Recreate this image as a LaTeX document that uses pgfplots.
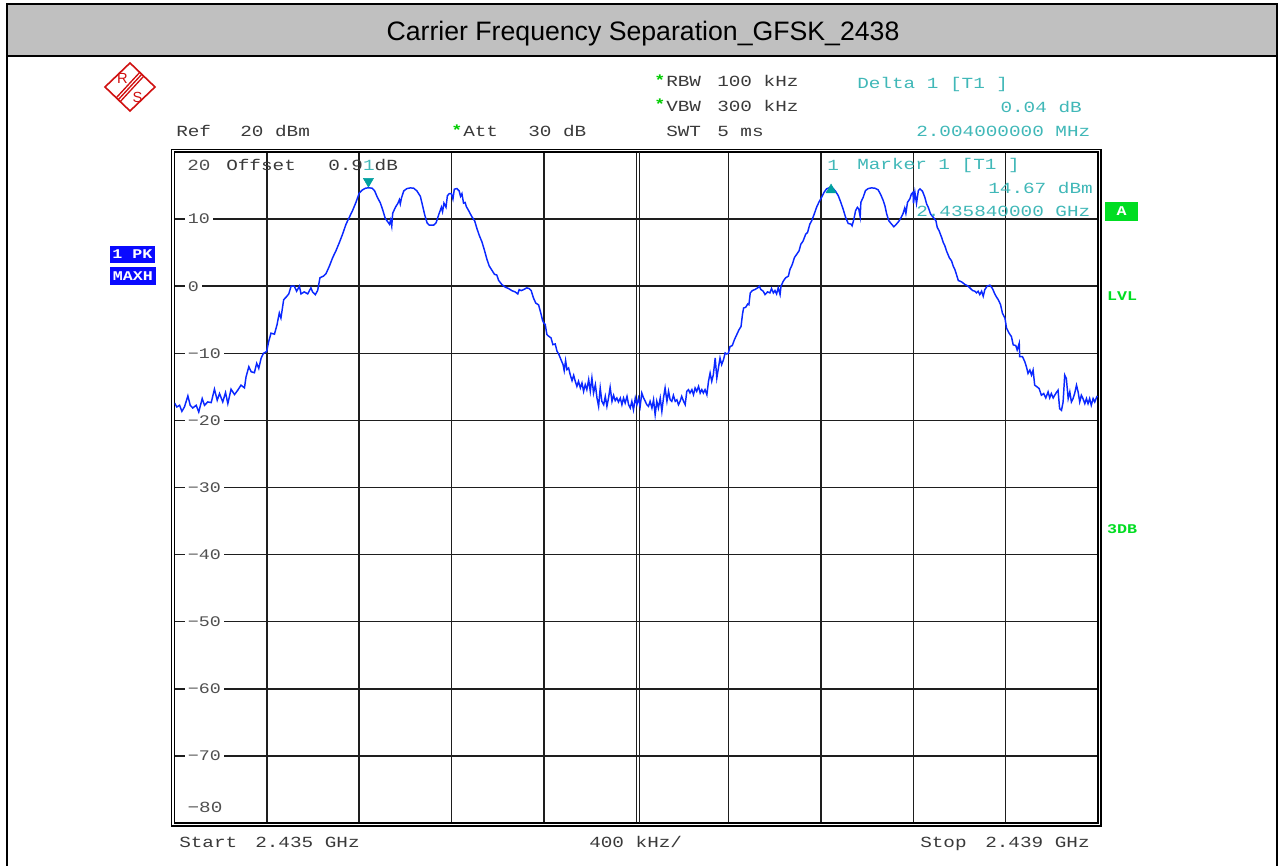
\documentclass[border=0pt]{standalone}
\usepackage{pgfplots}
\pgfplotsset{compat=1.18}
\usepackage{pgfplotstable}
\usepackage{fontspec}
\setmainfont{Liberation Sans}
\newfontfamily\rs[FakeStretch=1.25]{Liberation Mono}
\definecolor{rsgray}{HTML}{3A3A3A}
\definecolor{ticgray}{HTML}{505050}
\definecolor{mkcyan}{HTML}{40B8B8}
\definecolor{mkteal}{HTML}{00A0A0}
\definecolor{rsgreen}{HTML}{00DD22}
\definecolor{rsstar}{HTML}{00CC00}
\definecolor{rsblue}{HTML}{0A0AFF}
\definecolor{rsred}{HTML}{D01010}
\definecolor{titlegray}{HTML}{C0C0C0}
\definecolor{tracecol}{HTML}{0A28FF}
\definecolor{gridcol}{HTML}{1E1E1E}

% frequency offset from 2.435 GHz in MHz, level in dBm
\pgfplotstableread{
f db
0.000 -17.40
0.010 -18.00
0.022 -17.75
0.032 -18.65
0.043 -18.00
0.058 -16.35
0.068 -17.75
0.079 -18.15
0.094 -17.75
0.105 -18.75
0.120 -16.75
0.130 -17.75
0.144 -17.25
0.159 -17.35
0.173 -15.35
0.185 -17.00
0.195 -16.00
0.209 -17.25
0.221 -15.85
0.231 -17.50
0.245 -15.35
0.260 -16.15
0.274 -15.50
0.288 -14.75
0.303 -15.15
0.310 -13.50
0.322 -12.00
0.332 -12.75
0.346 -12.90
0.356 -11.50
0.365 -12.25
0.375 -10.75
0.385 -10.00
0.399 -9.75
0.408 -8.25
0.418 -7.00
0.433 -7.15
0.444 -5.75
0.454 -4.00
0.461 -4.75
0.473 -2.00
0.483 -1.65
0.495 -1.15
0.505 0.00
0.519 0.00
0.529 -0.75
0.541 0.00
0.548 -1.15
0.562 -0.85
0.577 -1.15
0.591 -0.25
0.598 -0.85
0.610 -1.25
0.620 -0.65
0.630 1.25
0.645 1.50
0.656 1.85
0.671 3.00
0.685 4.25
0.699 5.25
0.714 6.50
0.728 7.75
0.743 9.25
0.757 10.25
0.771 11.25
0.786 12.50
0.800 13.85
0.812 14.30
0.827 14.60
0.841 14.67
0.856 14.60
0.867 14.20
0.877 13.38
0.892 12.37
0.902 11.36
0.913 10.10
0.931 9.24
0.936 9.85
0.941 8.94
0.945 10.86
0.957 11.77
0.968 12.37
0.974 12.88
0.978 12.27
0.983 13.13
0.993 14.20
1.007 14.55
1.022 14.65
1.036 14.60
1.050 14.20
1.065 13.38
1.072 12.37
1.084 10.61
1.094 9.44
1.104 9.09
1.122 9.09
1.133 9.44
1.144 10.61
1.156 11.77
1.161 11.11
1.167 12.37
1.176 11.77
1.182 13.48
1.190 13.79
1.199 13.79
1.206 12.98
1.212 14.45
1.223 14.55
1.233 14.20
1.239 13.38
1.245 13.79
1.252 12.37
1.259 12.47
1.264 11.87
1.274 11.26
1.288 10.35
1.300 9.75
1.310 8.59
1.320 7.58
1.332 6.57
1.343 5.30
1.353 4.04
1.363 3.03
1.375 2.37
1.386 1.77
1.396 1.67
1.404 0.86
1.418 0.25
1.433 -0.15
1.447 -0.35
1.461 -0.66
1.476 -0.86
1.487 -1.16
1.493 -0.51
1.502 -0.66
1.512 -0.51
1.526 -0.25
1.536 -0.35
1.545 -0.66
1.555 -1.77
1.565 -2.53
1.577 -2.78
1.585 -3.79
1.594 -5.05
1.599 -5.47
1.606 -5.72
1.613 -7.21
1.621 -7.46
1.631 -7.71
1.639 -8.71
1.649 -8.61
1.657 -9.70
1.664 -10.10
1.674 -10.95
1.683 -11.69
1.688 -12.59
1.694 -11.09
1.700 -12.44
1.707 -12.19
1.714 -13.18
1.722 -14.08
1.729 -13.28
1.736 -14.18
1.743 -14.93
1.750 -14.18
1.758 -15.17
1.765 -14.43
1.772 -15.67
1.779 -14.68
1.786 -15.42
1.794 -13.93
1.801 -15.67
1.808 -13.68
1.815 -15.92
1.823 -14.68
1.830 -16.67
1.837 -17.91
1.844 -15.17
1.851 -17.16
1.859 -17.66
1.866 -16.42
1.873 -17.91
1.880 -16.67
1.887 -15.07
1.895 -17.16
1.902 -16.27
1.909 -17.06
1.916 -16.67
1.923 -17.26
1.931 -16.67
1.938 -17.66
1.945 -16.67
1.952 -17.41
1.960 -16.42
1.967 -17.66
1.974 -18.16
1.981 -17.16
1.988 -18.41
1.996 -16.67
2.003 -17.66
2.010 -16.67
2.017 -17.91
2.024 -15.92
2.032 -16.67
2.039 -17.16
2.046 -17.66
2.053 -17.91
2.060 -17.16
2.068 -18.16
2.075 -16.92
2.082 -19.15
2.089 -17.16
2.096 -18.16
2.104 -16.67
2.111 -18.66
2.118 -16.67
2.125 -15.17
2.133 -17.16
2.140 -15.67
2.147 -16.92
2.154 -17.16
2.161 -16.27
2.169 -17.16
2.176 -16.92
2.183 -17.66
2.190 -17.16
2.197 -16.42
2.205 -17.16
2.212 -17.66
2.219 -15.67
2.226 -15.42
2.233 -15.92
2.241 -15.42
2.248 -16.17
2.255 -15.17
2.262 -15.67
2.270 -14.93
2.277 -15.92
2.284 -15.42
2.291 -15.92
2.298 -15.42
2.306 -16.17
2.313 -14.18
2.320 -12.94
2.327 -14.18
2.334 -13.18
2.342 -10.70
2.349 -13.68
2.356 -12.19
2.363 -10.70
2.370 -11.69
2.378 -10.95
2.385 -9.95
2.392 -10.10
2.399 -10.00
2.406 -9.00
2.416 -8.85
2.425 -8.00
2.435 -7.25
2.445 -6.50
2.454 -6.00
2.460 -4.25
2.465 -3.25
2.474 -3.15
2.483 -2.65
2.488 -2.75
2.494 -1.00
2.503 -0.65
2.514 -0.50
2.526 -0.25
2.533 0.00
2.540 -0.50
2.550 -0.75
2.558 -1.25
2.569 -0.85
2.579 -1.00
2.586 -0.35
2.594 -1.00
2.601 -0.65
2.608 -1.15
2.615 -0.25
2.623 -1.25
2.627 0.00
2.637 0.75
2.647 1.25
2.659 1.50
2.666 2.50
2.676 3.25
2.685 4.25
2.695 4.75
2.705 5.25
2.713 6.25
2.723 6.75
2.734 7.75
2.742 8.00
2.752 9.25
2.760 9.75
2.771 10.75
2.781 11.75
2.791 12.50
2.803 13.25
2.814 14.00
2.824 14.50
2.839 14.71
2.853 14.55
2.863 14.15
2.875 13.50
2.886 12.50
2.896 11.50
2.907 10.25
2.918 9.35
2.930 9.25
2.935 9.00
2.943 10.00
2.950 11.25
2.958 11.75
2.964 11.50
2.970 10.35
2.973 12.50
2.983 13.25
2.993 14.25
3.005 14.55
3.019 14.65
3.034 14.60
3.048 14.35
3.059 13.65
3.070 12.75
3.077 12.00
3.085 10.75
3.094 9.75
3.106 9.25
3.116 8.85
3.127 9.25
3.137 9.65
3.146 10.15
3.156 10.85
3.163 11.65
3.168 10.85
3.175 12.50
3.185 13.00
3.192 13.75
3.199 14.00
3.201 12.35
3.207 14.00
3.214 12.35
3.222 14.25
3.229 14.50
3.240 14.15
3.250 13.25
3.258 12.25
3.265 11.75
3.275 10.75
3.287 10.25
3.298 9.75
3.304 8.75
3.312 8.25
3.323 7.25
3.330 6.50
3.337 6.00
3.344 5.25
3.356 4.25
3.366 3.75
3.373 3.00
3.380 2.50
3.387 1.75
3.395 0.85
3.409 0.65
3.424 0.25
3.438 0.00
3.448 -0.35
3.457 -0.65
3.467 -0.75
3.474 -1.00
3.481 -0.75
3.488 -1.25
3.496 -0.75
3.503 -1.50
3.510 -0.50
3.520 0.00
3.532 0.15
3.543 -0.35
3.553 -1.15
3.561 -1.65
3.568 -2.00
3.578 -2.75
3.586 -4.00
3.597 -4.75
3.604 -6.25
3.615 -7.00
3.625 -7.50
3.633 -8.75
3.644 -8.85
3.650 -9.50
3.659 -8.50
3.661 -10.50
3.673 -10.50
3.683 -11.25
3.690 -12.00
3.697 -13.00
3.705 -12.50
3.712 -13.25
3.719 -12.50
3.726 -14.75
3.736 -15.00
3.745 -15.25
3.755 -16.25
3.765 -16.00
3.774 -16.65
3.784 -15.75
3.791 -16.65
3.798 -16.00
3.806 -16.65
3.817 -16.00
3.827 -15.50
3.834 -18.25
3.842 -18.50
3.849 -17.25
3.856 -13.25
3.863 -13.75
3.871 -16.75
3.878 -15.75
3.885 -17.25
3.892 -16.75
3.899 -16.00
3.907 -14.75
3.914 -15.75
3.921 -17.25
3.928 -16.25
3.935 -16.75
3.943 -17.50
3.950 -16.75
3.957 -17.50
3.964 -16.75
3.971 -17.75
3.979 -16.75
3.986 -17.25
3.993 -16.65
3.997 -16.35
}\tracedata

\begin{document}
\begin{tikzpicture}[
  rst/.style={font=\rs\fontsize{11.6pt}{13pt}\selectfont, inner sep=0pt, anchor=base west, text=rsgray},
  rsc/.style={rst, text=mkcyan},
  star/.style={font=\rs\bfseries\fontsize{11pt}{12pt}\selectfont, inner sep=0pt, anchor=base west, text=rsstar},
  pix/.style={x=0.75pt, y=-0.75pt, yshift=649.5pt}]
\begin{scope}[pix]
\useasboundingbox (0,0) rectangle (1279,866);
\fill[white] (0,0) rectangle (1279,866);
% title bar and frame
\fill[titlegray] (6.5,4.5) rectangle (1276.5,56.5);
\draw[black,line width=1.5pt] (6.5,870) -- (6.5,4.5) -- (1276.5,4.5) -- (1276.5,870);
\draw[black,line width=1.5pt] (6.5,56.5) -- (1276.5,56.5);
\node[font=\fontsize{20pt}{22pt}\selectfont, inner sep=0pt] at (643,34) {Carrier Frequency Separation\_GFSK\_2438};

% R&S logo
\draw[rsred, line width=1.2pt, line join=miter] (105,87) -- (130,63) -- (155,87) -- (130,111) -- cycle;
\draw[rsred, line width=1.0pt] (140.0,72.1) -- (116.0,98.1);
\draw[rsred, line width=1.0pt] (142.0,74.0) -- (118.0,100.0);
\draw[rsred, line width=1.0pt] (144.0,75.9) -- (120.0,101.9);
\node[text=rsred, font=\fontsize{11pt}{11pt}\selectfont, inner sep=0pt] at (122.5,78) {R};
\node[text=rsred, font=\fontsize{11pt}{11pt}\selectfont, inner sep=0pt] at (137.5,97) {S};

% header
\node[rst] at (176,137) {Ref};
\node[rst] at (240,137) {20 dBm};
\node[star] at (451,136) {*};
\node[rst] at (463,137) {Att};
\node[rst] at (528,137) {30 dB};
\node[star] at (654,86) {*};
\node[rst] at (666,87) {RBW};
\node[rst] at (717,87) {100 kHz};
\node[star] at (654,110) {*};
\node[rst] at (666,112) {VBW};
\node[rst] at (717,112) {300 kHz};
\node[rst] at (666,137) {SWT};
\node[rst] at (717,137) {5 ms};
\node[rsc] at (857,89) {Delta 1 [T1 ]};
\node[rsc, anchor=base east] at (1082,113) {0.04 dB};
\node[rsc] at (916,137) {2.004000000 MHz};

% left / right status boxes
\fill[rsblue] (110,246) rectangle (155,263);
\node[font=\rs\bfseries\fontsize{10pt}{11pt}\selectfont, text=white, inner sep=0pt] at (132.5,254.5) {1 PK};
\fill[rsblue] (110,267) rectangle (156,285);
\node[font=\rs\bfseries\fontsize{10pt}{11pt}\selectfont, text=white, inner sep=0pt] at (133,276) {MAXH};
\fill[rsgreen] (1105,202) rectangle (1138,221);
\node[font=\rs\bfseries\fontsize{10pt}{11pt}\selectfont, text=white, inner sep=0pt] at (1121.5,211.5) {A};
\node[font=\rs\bfseries\fontsize{10pt}{11pt}\selectfont, text=rsgreen, inner sep=0pt] at (1122,296) {LVL};
\node[font=\rs\bfseries\fontsize{10pt}{11pt}\selectfont, text=rsgreen, inner sep=0pt] at (1122,529) {3DB};
\end{scope}

\begin{axis}[
  at={(130.875pt,32.25pt)}, anchor=south west,
  width=692.6pt, height=503.25pt, scale only axis,
  xmin=0, xmax=4, ymin=-80, ymax=20,
  xtick={0.4,0.8,1.2,1.6,2.0,2.4,2.8,3.2,3.6},
  xticklabels={},
  ytick={-70,-60,-50,-40,-30,-20,-10,0,10},
  yticklabels={−70,−60,−50,−40,−30,−20,−10,0,10},
  major tick length=0pt,
  grid=major,
  major grid style={line width=1.1pt, color=gridcol},
  axis line style={line width=1.1pt, black},
  yticklabel style={anchor=west, xshift=7.5pt, fill=white, inner xsep=2.25pt, inner ysep=0.8pt,
     font=\rs\fontsize{11pt}{12pt}\selectfont, text=ticgray},
]
\draw[gridcol, line width=1.1pt] ([xshift=2.6pt]axis cs:2,-80) -- ([xshift=2.6pt]axis cs:2,20);
\addplot[tracecol, line width=1.1pt] table[x=f, y=db] {\tracedata};
\addplot[only marks, mark=triangle*, mark size=4.4pt, color=mkteal,
  mark options={yshift=4.9pt, rotate=180}] coordinates {(0.84,14.67)};
\addplot[only marks, mark=triangle*, mark size=4.4pt, color=mkteal,
  mark options={yshift=-1.9pt}] coordinates {(2.84384,14.71)};
\end{axis}

\begin{scope}[pix]
% outer double frame of the graticule
\draw[black, line width=0.9pt] (171.7,149.5) rectangle (1101,826);
% texts inside the graticule
\node[rst, text=ticgray] at (187,171) {20};
\node[rst] at (226,171) {Offset};
\node[rst] at (328,171) {0.9\textcolor{mkcyan}{1}dB};
\node[rst, text=ticgray, fill=white, inner sep=1pt] at (186,813) {−80};
\node[rsc] at (827,171) {1};
\node[rsc] at (857,170) {Marker 1 [T1 ]};
\node[rsc, anchor=base east] at (1093,194) {14.67 dBm};
\node[rsc] at (916,217) {2.435840000 GHz};
% footer
\node[rst] at (179,848) {Start};
\node[rst] at (255,848) {2.435 GHz};
\node[rst] at (589,848) {400 kHz/};
\node[rst] at (920,848) {Stop};
\node[rst] at (985,848) {2.439 GHz};
\end{scope}
\end{tikzpicture}
\end{document}
